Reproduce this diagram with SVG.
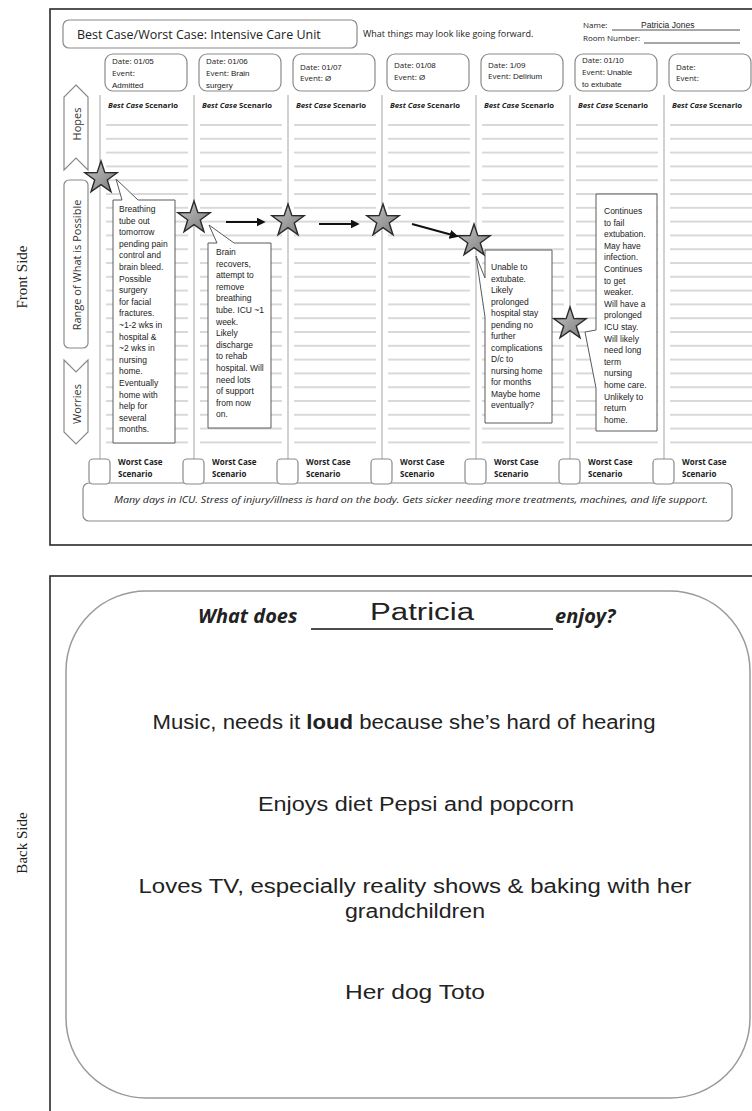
<svg xmlns="http://www.w3.org/2000/svg" width="752" height="1111" viewBox="0 0 752 1111">
<defs>
<style>
.frame{fill:none;stroke:#2a2a2a;stroke-width:1.6}
.box{fill:#fff;stroke:#8a8a8a;stroke-width:1.2}
.sep{stroke:#d2d2d2;stroke-width:2}
.note{fill:#fff;stroke:#5a5a5a;stroke-width:1}
.star{fill:url(#sg);stroke:#2a2a2a;stroke-width:1.4}
.arrow{stroke:#111;stroke-width:2;fill:none;marker-end:url(#ah)}
.pr{font-family:"Open Sans","Liberation Sans",sans-serif;fill:#222}
.hw{font-family:"Liberation Sans",sans-serif;fill:#222}
.side{font-family:"Liberation Serif",serif;font-size:15px;fill:#222;text-anchor:middle}
.lab{font-family:"Open Sans","Liberation Sans",sans-serif;font-size:11px;fill:#333;text-anchor:middle}
.bcs{font-family:"Open Sans","Liberation Sans",sans-serif;font-size:7.7px;font-weight:bold;fill:#222}
.wcs{font-family:"Open Sans","Liberation Sans",sans-serif;font-size:8px;font-weight:bold;fill:#222}
.dt{font-family:"Open Sans","Liberation Sans",sans-serif;font-size:8px;fill:#222}
.dv{font-family:"Liberation Sans",sans-serif;font-size:8px;fill:#222}
.nt{font-family:"Liberation Sans",sans-serif;font-size:8.5px;fill:#222}
.back{font-family:"Liberation Sans",sans-serif;font-size:20px;fill:#222;text-anchor:middle}
</style>
<linearGradient id="sg" x1="0" y1="0" x2="1" y2="1"><stop offset="0" stop-color="#c6c6c6"/><stop offset="1" stop-color="#7a7a7a"/></linearGradient>
<marker id="ah" viewBox="0 0 10 10" refX="7" refY="5" markerWidth="4.5" markerHeight="4.5" orient="auto"><path d="M0,0 L10,5 L0,10 z" fill="#111"/></marker>
<polygon id="star" points="0,-17 3.87,-5.33 16.17,-5.25 6.27,2.04 9.99,13.75 0,6.6 -9.99,13.75 -6.27,2.04 -16.17,-5.25 -3.87,-5.33"/>
<pattern id="rules" patternUnits="userSpaceOnUse" x="100" y="118.1" width="94" height="13.8"><line x1="6" y1="6.9" x2="88" y2="6.9" stroke="#cdcdcd" stroke-width="1.3"/></pattern>
</defs>
<rect width="752" height="1111" fill="#fff"/>

<g id="front-frame">
<rect class="frame" x="50" y="9" width="710" height="536"/>
<text class="side" transform="translate(22,277) rotate(-90)" dy="0.35em">Front Side</text>
</g>

<g id="header">
<rect class="box" x="63" y="20" width="294" height="28" rx="6"/>
<text class="pr" x="77" y="39" font-size="12.5">Best Case/Worst Case: Intensive Care Unit</text>
<text class="pr" x="363" y="37" font-size="9">What things may look like going forward.</text>
<text class="pr" x="583" y="28" font-size="8">Name:</text>
<line x1="612" y1="30" x2="740" y2="30" stroke="#222" stroke-width="0.8"/>
<text class="hw" x="641" y="28" font-size="8.5">Patricia Jones</text>
<text class="pr" x="583" y="41" font-size="8">Room Number:</text>
<line x1="644" y1="43" x2="740" y2="43" stroke="#222" stroke-width="0.8"/>
</g>

<g id="grid">
<rect x="100" y="118" width="652" height="330" fill="url(#rules)"/>
<line class="sep" x1="100" y1="95" x2="100" y2="459"/>
<line class="sep" x1="194" y1="95" x2="194" y2="459"/>
<line class="sep" x1="288" y1="95" x2="288" y2="459"/>
<line class="sep" x1="382" y1="95" x2="382" y2="459"/>
<line class="sep" x1="476" y1="95" x2="476" y2="459"/>
<line class="sep" x1="570" y1="95" x2="570" y2="459"/>
<line class="sep" x1="664" y1="95" x2="664" y2="459"/>
<text class="bcs" x="108" y="108"><tspan font-style="italic">Best Case</tspan> Scenario</text>
<text class="bcs" x="202" y="108"><tspan font-style="italic">Best Case</tspan> Scenario</text>
<text class="bcs" x="296" y="108"><tspan font-style="italic">Best Case</tspan> Scenario</text>
<text class="bcs" x="390" y="108"><tspan font-style="italic">Best Case</tspan> Scenario</text>
<text class="bcs" x="484" y="108"><tspan font-style="italic">Best Case</tspan> Scenario</text>
<text class="bcs" x="578" y="108"><tspan font-style="italic">Best Case</tspan> Scenario</text>
<text class="bcs" x="672" y="108"><tspan font-style="italic">Best Case</tspan> Scenario</text>
</g>

<g id="date1"><rect class="box" x="105" y="54" width="82" height="37" rx="8"/>
<text class="dt" x="112" y="64">Date: <tspan class="dv">01/05</tspan></text>
<text class="dt" x="112" y="76">Event:</text>
<text class="dv" x="112" y="88">Admitted</text></g>
<g id="date2"><rect class="box" x="199" y="54" width="82" height="37" rx="8"/>
<text class="dt" x="206" y="64">Date: <tspan class="dv">01/06</tspan></text>
<text class="dt" x="206" y="76">Event: <tspan class="dv">Brain</tspan></text>
<text class="dv" x="206" y="88">surgery</text></g>
<g id="date3"><rect class="box" x="293" y="54" width="82" height="37" rx="8"/>
<text class="dt" x="300" y="70">Date: <tspan class="dv">01/07</tspan></text>
<text class="dt" x="300" y="81">Event: <tspan class="dv">Ø</tspan></text></g>
<g id="date4"><rect class="box" x="387" y="54" width="82" height="37" rx="8"/>
<text class="dt" x="394" y="68">Date: <tspan class="dv">01/08</tspan></text>
<text class="dt" x="394" y="80">Event: <tspan class="dv">Ø</tspan></text></g>
<g id="date5"><rect class="box" x="481" y="54" width="82" height="37" rx="8"/>
<text class="dt" x="488" y="68">Date: <tspan class="dv">1/09</tspan></text>
<text class="dt" x="488" y="79">Event: <tspan class="dv">Delirium</tspan></text></g>
<g id="date6"><rect class="box" x="575" y="54" width="82" height="37" rx="8"/>
<text class="dt" x="582" y="63">Date: <tspan class="dv">01/10</tspan></text>
<text class="dt" x="582" y="75">Event: <tspan class="dv">Unable</tspan></text>
<text class="dv" x="582" y="87">to extubate</text></g>
<g id="date7"><rect class="box" x="669" y="54" width="82" height="37" rx="8"/>
<text class="dt" x="676" y="70">Date:</text>
<text class="dt" x="676" y="81">Event:</text></g>

<g id="label-hopes">
<polygon class="box" points="76,85 88,97 88,170 76,158 64,170 64,97"/>
<text class="lab" transform="translate(77,124) rotate(-90)" dy="0.35em">Hopes</text>
</g>
<g id="label-range">
<rect class="box" x="64" y="180" width="24" height="168" rx="5"/>
<text class="lab" transform="translate(77,265) rotate(-90)" dy="0.35em">Range of What is Possible</text>
</g>
<g id="label-worries">
<polygon class="box" points="64,360 76,372 88,360 88,432 76,444 64,432"/>
<text class="lab" transform="translate(77,404) rotate(-90)" dy="0.35em">Worries</text>
</g>

<g id="worst-case">
<rect class="box" x="83" y="483" width="649" height="38" rx="6"/>
<text class="pr" x="114" y="503" font-size="9" font-style="italic" textLength="594" lengthAdjust="spacingAndGlyphs">Many days in ICU. Stress of injury/illness is hard on the body. Gets sicker needing more treatments, machines, and life support.</text>
<rect class="box" x="89" y="459" width="21" height="25" rx="4"/>
<rect class="box" x="183" y="459" width="21" height="25" rx="4"/>
<rect class="box" x="277" y="459" width="21" height="25" rx="4"/>
<rect class="box" x="371" y="459" width="21" height="25" rx="4"/>
<rect class="box" x="465" y="459" width="21" height="25" rx="4"/>
<rect class="box" x="559" y="459" width="21" height="25" rx="4"/>
<rect class="box" x="653" y="459" width="21" height="25" rx="4"/>
<text class="wcs" x="118" y="465">Worst Case<tspan x="118" y="477">Scenario</tspan></text>
<text class="wcs" x="212" y="465">Worst Case<tspan x="212" y="477">Scenario</tspan></text>
<text class="wcs" x="306" y="465">Worst Case<tspan x="306" y="477">Scenario</tspan></text>
<text class="wcs" x="400" y="465">Worst Case<tspan x="400" y="477">Scenario</tspan></text>
<text class="wcs" x="494" y="465">Worst Case<tspan x="494" y="477">Scenario</tspan></text>
<text class="wcs" x="588" y="465">Worst Case<tspan x="588" y="477">Scenario</tspan></text>
<text class="wcs" x="682" y="465">Worst Case<tspan x="682" y="477">Scenario</tspan></text>
</g>

<g id="note1">
<path class="note" d="M113,200 L122,200 L116,179 L138,200 L175,200 L175,443 L113,443 Z"/>
<text class="nt"><tspan x="119" y="212">Breathing</tspan><tspan x="119" dy="11.6">tube out</tspan><tspan x="119" dy="11.6">tomorrow</tspan><tspan x="119" dy="11.6">pending pain</tspan><tspan x="119" dy="11.6">control and</tspan><tspan x="119" dy="11.6">brain bleed.</tspan><tspan x="119" dy="11.6">Possible</tspan><tspan x="119" dy="11.6">surgery</tspan><tspan x="119" dy="11.6">for facial</tspan><tspan x="119" dy="11.6">fractures.</tspan><tspan x="119" dy="11.6">~1-2 wks in</tspan><tspan x="119" dy="11.6">hospital &amp;</tspan><tspan x="119" dy="11.6">~2 wks in</tspan><tspan x="119" dy="11.6">nursing</tspan><tspan x="119" dy="11.6">home.</tspan><tspan x="119" dy="11.6">Eventually</tspan><tspan x="119" dy="11.6">home with</tspan><tspan x="119" dy="11.6">help for</tspan><tspan x="119" dy="11.6">several</tspan><tspan x="119" dy="11.6">months.</tspan></text>
</g>
<g id="note2">
<path class="note" d="M208,243 L217,243 L209,225 L234,243 L271,243 L271,428 L208,428 Z"/>
<text class="nt"><tspan x="216" y="255">Brain</tspan><tspan x="216" dy="11.6">recovers,</tspan><tspan x="216" dy="11.6">attempt to</tspan><tspan x="216" dy="11.6">remove</tspan><tspan x="216" dy="11.6">breathing</tspan><tspan x="216" dy="11.6">tube. ICU ~1</tspan><tspan x="216" dy="11.6">week.</tspan><tspan x="216" dy="11.6">Likely</tspan><tspan x="216" dy="11.6">discharge</tspan><tspan x="216" dy="11.6">to rehab</tspan><tspan x="216" dy="11.6">hospital. Will</tspan><tspan x="216" dy="11.6">need lots</tspan><tspan x="216" dy="11.6">of support</tspan><tspan x="216" dy="11.6">from now</tspan><tspan x="216" dy="11.6">on.</tspan></text>
</g>
<g id="note5">
<path class="note" d="M485,250 L552,250 L552,423 L485,423 L485,317 L476,256 L485,278 Z"/>
<text class="nt"><tspan x="491" y="270">Unable to</tspan><tspan x="491" dy="11.5">extubate.</tspan><tspan x="491" dy="11.5">Likely</tspan><tspan x="491" dy="11.5">prolonged</tspan><tspan x="491" dy="11.5">hospital stay</tspan><tspan x="491" dy="11.5">pending no</tspan><tspan x="491" dy="11.5">further</tspan><tspan x="491" dy="11.5">complications</tspan><tspan x="491" dy="11.5">D/c to</tspan><tspan x="491" dy="11.5">nursing home</tspan><tspan x="491" dy="11.5">for months</tspan><tspan x="491" dy="11.5">Maybe home</tspan><tspan x="491" dy="11.5">eventually?</tspan></text>
</g>
<g id="note6">
<path class="note" d="M596,194 L657,194 L657,431 L596,431 L596,388 L585,332 L596,330 Z"/>
<text class="nt"><tspan x="604" y="214">Continues</tspan><tspan x="604" dy="11.6">to fail</tspan><tspan x="604" dy="11.6">extubation.</tspan><tspan x="604" dy="11.6">May have</tspan><tspan x="604" dy="11.6">infection.</tspan><tspan x="604" dy="11.6">Continues</tspan><tspan x="604" dy="11.6">to get</tspan><tspan x="604" dy="11.6">weaker.</tspan><tspan x="604" dy="11.6">Will have a</tspan><tspan x="604" dy="11.6">prolonged</tspan><tspan x="604" dy="11.6">ICU stay.</tspan><tspan x="604" dy="11.6">Will likely</tspan><tspan x="604" dy="11.6">need long</tspan><tspan x="604" dy="11.6">term</tspan><tspan x="604" dy="11.6">nursing</tspan><tspan x="604" dy="11.6">home care.</tspan><tspan x="604" dy="11.6">Unlikely to</tspan><tspan x="604" dy="11.6">return</tspan><tspan x="604" dy="11.6">home.</tspan></text>
</g>

<g id="stars">
<use id="star1" href="#star" class="star" x="101" y="178"/>
<use id="star2" href="#star" class="star" x="194" y="218"/>
<use id="star3" href="#star" class="star" x="288" y="221"/>
<use id="star4" href="#star" class="star" x="383" y="221"/>
<use id="star5" href="#star" class="star" x="474" y="241"/>
<use id="star6" href="#star" class="star" x="570" y="324"/>
</g>

<g id="connectors">
<line class="arrow" x1="226" y1="222" x2="263" y2="222"/>
<line class="arrow" x1="319" y1="224" x2="357" y2="224"/>
<line class="arrow" x1="412" y1="224" x2="456" y2="236"/>
</g>

<g id="back-side">
<rect class="frame" x="50" y="576" width="710" height="600"/>
<text class="side" transform="translate(22,843) rotate(-90)" dy="0.35em">Back Side</text>
<rect x="66" y="591" width="684" height="507" rx="80" fill="none" stroke="#9a9a9a" stroke-width="1.5"/>
<text class="pr" x="198" y="623" font-size="20" font-weight="bold" font-style="italic">What does</text>
<line x1="311" y1="629" x2="553" y2="629" stroke="#111" stroke-width="1.6"/>
<text class="hw" x="422" y="620" font-size="23" text-anchor="middle" textLength="104" lengthAdjust="spacingAndGlyphs">Patricia</text>
<text class="pr" x="555" y="623" font-size="20" font-weight="bold" font-style="italic">enjoy?</text>
<text class="back" x="404" y="729" textLength="503" lengthAdjust="spacingAndGlyphs">Music, needs it <tspan font-weight="bold">loud</tspan> because she’s hard of hearing</text>
<text class="back" x="416" y="811" textLength="316" lengthAdjust="spacingAndGlyphs">Enjoys diet Pepsi and popcorn</text>
<text class="back" x="415" y="893" textLength="553" lengthAdjust="spacingAndGlyphs">Loves TV, especially reality shows &amp; baking with her</text>
<text class="back" x="415" y="918" textLength="140" lengthAdjust="spacingAndGlyphs">grandchildren</text>
<text class="back" x="415" y="999" textLength="140" lengthAdjust="spacingAndGlyphs">Her dog Toto</text>
</g>
</svg>
